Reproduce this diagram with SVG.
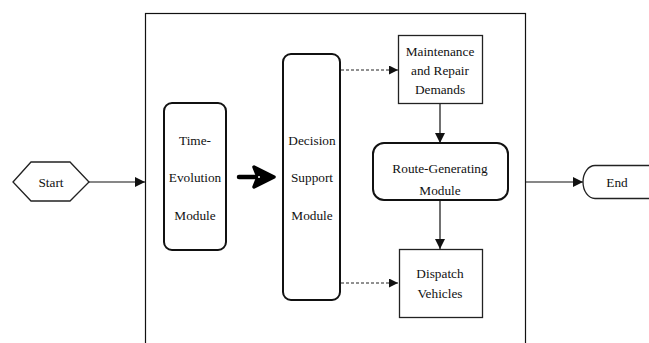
<svg xmlns="http://www.w3.org/2000/svg" width="649" height="343" viewBox="0 0 649 343" font-family="'Liberation Serif', 'Times New Roman', 'DejaVu Serif', serif">
<defs>
<style>
text{font-family:'Liberation Serif','Times New Roman','DejaVu Serif',serif;font-size:13.3px;fill:#111;text-anchor:middle;dominant-baseline:central}
.box{fill:#fff;stroke:#222;stroke-width:1.3}
.rbox{fill:#fff;stroke:#111;stroke-width:2}
.ln{fill:none;stroke:#111;stroke-width:1.2}
.dash{fill:none;stroke:#222;stroke-width:1;stroke-dasharray:3,2}
</style>
<marker id="ah" viewBox="0 0 10 10" refX="10" refY="5" markerWidth="10" markerHeight="10" markerUnits="userSpaceOnUse" orient="auto">
<path d="M0,0 L10,5 L0,10 Z" fill="#111"/>
</marker>
<marker id="ahs" viewBox="0 0 10 10" refX="10" refY="5" markerWidth="9" markerHeight="9" markerUnits="userSpaceOnUse" orient="auto">
<path d="M0,0 L10,5 L0,10 Z" fill="#111"/>
</marker>
</defs>
<rect id="frame" x="145.5" y="13.5" width="380" height="340" fill="none" stroke="#111" stroke-width="1.2"/>
<g id="connectors">
<line class="ln" x1="89" y1="182" x2="145" y2="182" marker-end="url(#ah)"/>
<line class="dash" x1="341" y1="70" x2="398" y2="70" marker-end="url(#ahs)"/>
<line class="dash" x1="341" y1="283" x2="398" y2="283" marker-end="url(#ahs)"/>
<line class="ln" x1="440" y1="104" x2="440" y2="143" marker-end="url(#ah)"/>
<line class="ln" x1="440" y1="201" x2="440" y2="249" marker-end="url(#ah)"/>
<line class="ln" x1="526" y1="182" x2="583" y2="182" marker-end="url(#ah)"/>
<g id="bold-arrow">
<line x1="239" y1="177" x2="262" y2="177" stroke="#000" stroke-width="4.5" stroke-linecap="round"/>
<path d="M254,167 L274,177 L254,187 L258,177 Z" fill="#000" stroke="#000" stroke-width="3.5" stroke-linejoin="round"/>
<circle cx="259" cy="177" r="1" fill="#fff"/>
</g>
</g>
<g id="start">
<polygon points="13,182 31,162 70,162 89,182 70,201 31,201" class="box"/>
<text x="51" y="182">Start</text>
</g>
<g id="time-evolution">
<rect x="164" y="103" width="62" height="147" rx="8" class="rbox"/>
<text x="195" y="140">Time-</text>
<text x="195" y="177">Evolution</text>
<text x="195" y="215">Module</text>
</g>
<g id="decision-support">
<rect x="283" y="54" width="57" height="246" rx="8" class="rbox"/>
<text x="312" y="140">Decision</text>
<text x="312" y="177">Support</text>
<text x="312" y="215">Module</text>
</g>
<g id="maintenance">
<rect x="398.5" y="35.5" width="84" height="68" class="box"/>
<text x="440" y="51">Maintenance</text>
<text x="440" y="70">and Repair</text>
<text x="440" y="89">Demands</text>
</g>
<g id="route-generating">
<rect x="373" y="143" width="135" height="57" rx="11" class="rbox"/>
<text x="440" y="168">Route-Generating</text>
<text x="440" y="190">Module</text>
</g>
<g id="dispatch">
<rect x="399.5" y="249.5" width="83" height="68" class="box"/>
<text x="440" y="273">Dispatch</text>
<text x="440" y="293">Vehicles</text>
</g>
<g id="end">
<path d="M650,165.5 H595 A12 16.5 0 0 0 595,198.5 H650" class="box"/>
<text x="617" y="182">End</text>
</g>
</svg>
